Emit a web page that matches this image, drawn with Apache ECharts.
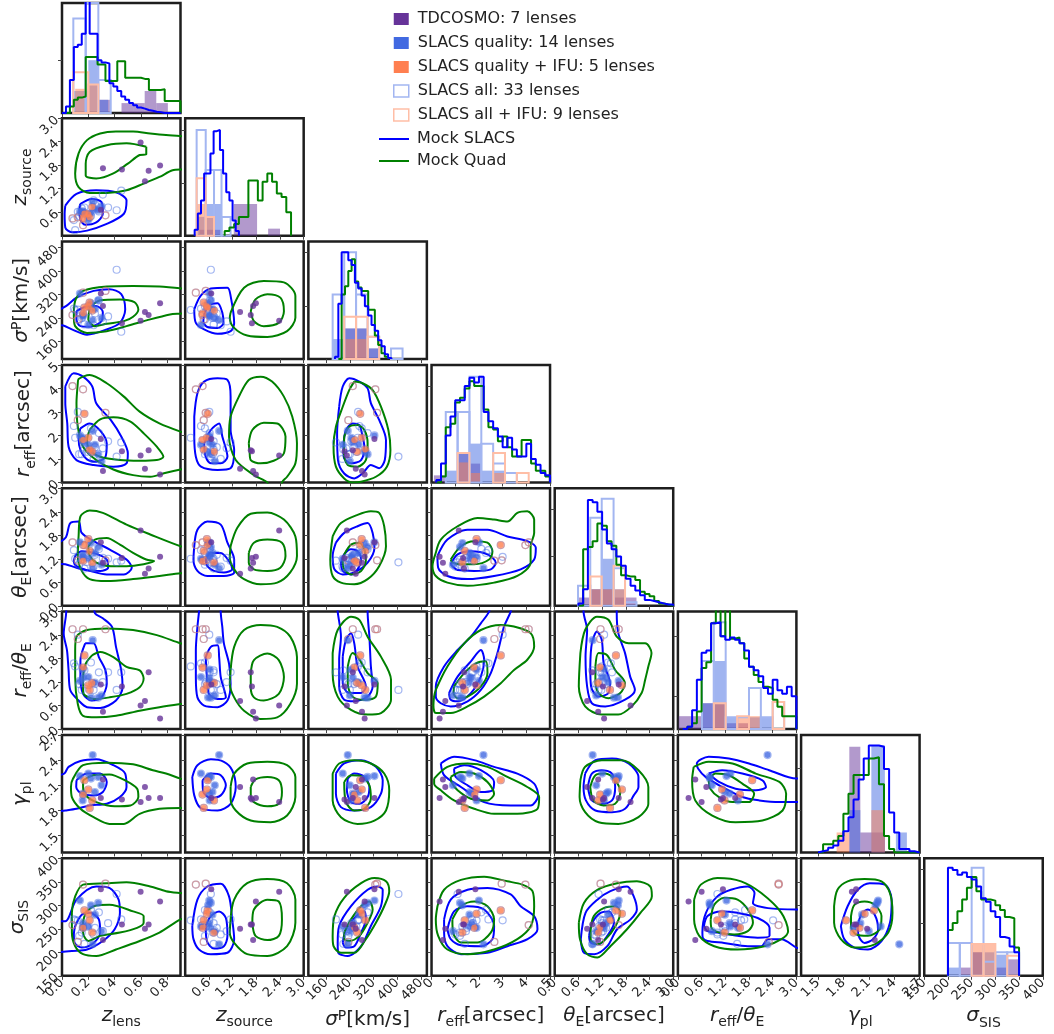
<!DOCTYPE html>
<html>
<head>
<meta charset="utf-8">
<script src="https://cdn.jsdelivr.net/npm/echarts@6/dist/echarts.min.js"></script>
<style>
  html, body { margin: 0; padding: 0; background: #ffffff; }
  #chart { width: 1054px; height: 1034px; }
</style>
</head>
<body>
<div id="chart"></div>
<script>
// ---------------------------------------------------------------------------
// Parameters of the corner plot (order of rows / columns)
// ---------------------------------------------------------------------------
const paramKeys = ['zl', 'zs', 'sp', 're', 'te', 'rt', 'gm', 'ss'];
const axisMin = [0, 0, 100, 0, 0, 0, 1.3, 150];
const axisMax = [0.9, 3, 500, 5, 3, 3, 2.7, 400];
const tickValues = [
  [0, 0.2, 0.4, 0.6, 0.8],
  [0.6, 1.2, 1.8, 2.4, 3.0],
  [160, 240, 320, 400, 480],
  [0, 1, 2, 3, 4, 5],
  [0, 0.6, 1.2, 1.8, 2.4, 3.0],
  [0, 0.6, 1.2, 1.8, 2.4, 3.0],
  [1.5, 1.8, 2.1, 2.4, 2.7],
  [150, 200, 250, 300, 350, 400]
];
const tickDecimals = [1, 1, 0, 0, 1, 1, 1, 0];
const axisTitles = [
  '{i|z}{s|lens}',
  '{i|z}{s|source}',
  '{i|σ}{p|P}{n|[km/s]}',
  '{i|r}{s|eff}{n|[arcsec]}',
  '{i|θ}{s|E}{n|[arcsec]}',
  '{i|r}{s|eff}{n|/}{i|θ}{s|E}',
  '{i|γ}{s|pl}',
  '{i|σ}{s|SIS}'
];

// ---------------------------------------------------------------------------
// Lens samples: TDCOSMO (7)
// ---------------------------------------------------------------------------
const td_zl = [0.63, 0.295, 0.455, 0.745, 0.658, 0.311, 0.597];
const td_zs = [1.39, 0.66, 1.69, 1.79, 1.66, 1.72, 2.38];
const td_sp = [260, 323, 222, 290, 250, 281, 230];
const td_re = [0.58, 1.85, 1.33, 0.34, 1.37, 0.48, 1.15];
const td_te = [0.82, 1.62, 1.22, 1.25, 0.95, 1.10, 1.92];
const td_rt = [0.72, 1.14, 1.09, 0.27, 1.45, 0.44, 0.60];
const td_gm = [2.08, 1.95, 1.93, 1.95, 1.95, 2.17, 1.90];
const td_ss = [250, 334, 259, 308, 259, 226, 329];

// SLACS quality lenses (14); flag marks the 5 with IFU kinematics
const sq_zl = [0.233, 0.20, 0.136, 0.275, 0.25, 0.16, 0.157, 0.22, 0.30, 0.17, 0.16, 0.21, 0.23, 0.20];
const sq_zs = [0.86, 0.40, 0.61, 0.65, 0.69, 0.61, 0.62, 0.58, 0.75, 0.57, 0.44, 0.47, 0.73, 0.55];
const sq_sp = [233, 216, 323, 300, 270, 250, 245, 290, 240, 275, 255, 292, 265, 280];
const sq_re = [2.19, 1.6, 2.0, 1.2, 1.6, 1.7, 1.9, 1.3, 0.9, 2.92, 1.8, 1.4, 1.3, 1.9];
const sq_te = [0.96, 1.2, 1.62, 1.5, 1.35, 1.3, 1.25, 1.6, 1.05, 1.55, 1.15, 1.4, 1.1, 1.7];
const sq_rt = [2.27, 1.33, 1.23, 0.8, 1.19, 1.31, 1.52, 0.81, 0.86, 1.88, 1.57, 1.0, 1.18, 1.12];
const sq_gm = [2.46, 2.24, 2.21, 2.20, 2.02, 2.00, 1.92, 2.18, 2.10, 2.16, 1.99, 1.83, 1.92, 2.05];
const sq_ss = [217, 255, 310, 305, 280, 262, 252, 300, 245, 289, 252, 268, 242, 282];
const sq_ifu = [0, 0, 0, 0, 0, 0, 0, 0, 0, 1, 1, 1, 1, 1];

// Remaining SLACS lenses (19, no power-law slope); flag marks the 4 with IFU
const so_zl = [0.415, 0.45, 0.08, 0.16, 0.33, 0.12, 0.12, 0.10, 0.17, 0.13, 0.25, 0.28, 0.19, 0.24, 0.35, 0.22, 0.15, 0.31, 0.09];
const so_zs = [0.65, 1.15, 0.44, 0.27, 0.52, 0.47, 0.61, 0.14, 0.72, 0.50, 0.80, 0.62, 0.53, 0.90, 0.72, 0.50, 0.70, 1.05, 0.40];
const so_sp = [404, 193, 250, 326, 332, 235, 268, 267, 218, 235, 255, 300, 262, 215, 245, 280, 240, 228, 272];
const so_re = [1.1, 1.7, 4.1, 3.96, 2.96, 2.65, 3.0, 1.9, 1.4, 1.2, 1.5, 2.1, 1.3, 1.0, 1.75, 2.3, 1.2, 1.45, 2.4];
const so_te = [1.11, 1.15, 1.62, 1.55, 1.16, 1.15, 1.25, 1.2, 0.95, 1.05, 1.3, 1.45, 1.12, 1.0, 1.2, 1.35, 1.18, 1.22, 1.42];
const so_rt = [1.0, 1.45, 2.55, 2.55, 2.55, 2.3, 2.41, 1.6, 1.5, 1.15, 1.15, 1.45, 1.2, 1.0, 1.45, 1.7, 1.0, 1.2, 1.68];
const so_gm = [null, null, null, null, null, null, null, null, null, null, null, null, null, null, null, null, null, null, null];
const so_ss = [324, 270, 258, 344, 346, 222, 268, 268, 218, 235, 252, 285, 255, 238, 262, 290, 242, 245, 270];
const so_ifu = [0, 0, 1, 1, 1, 1, 0, 0, 0, 0, 0, 0, 0, 0, 0, 0, 0, 0, 0];

// ---------------------------------------------------------------------------
// Mock populations: 1-D histograms [start, bin width] and bin heights
// ---------------------------------------------------------------------------
const mockBins = {
  zl: [0, 0.03], zs: [0.24, 0.08], sp: [190, 11.2], re: [0.2, 0.2],
  te: [0.6, 0.12], rt: [0.12, 0.12], gm: [1.5, 0.06], ss: [200, 10]
};
const mockQuadBins = {
  zl: [0, 0.03], zs: [1.0, 0.12], sp: [201.2, 11.2], re: [0.2, 0.2],
  te: [0.6, 0.12], rt: [0.12, 0.12], gm: [1.5, 0.06], ss: [200, 10]
};
const mS_zl = [0, 0.06, 0.3, 0.6, 0.62, 0.72, 1.1, 0.72, 0.72, 0.48, 0.46, 0.45, 0.27, 0.24, 0.2, 0.15, 0.12, 0.09, 0.07, 0.05, 0.04, 0.027, 0.02, 0.012, 0.008, 0, 0, 0, 0, 0];
const mQ_zl = [0, 0, 0.06, 0.12, 0.14, 0.15, 0.51, 0.51, 0.51, 0.44, 0.44, 0.29, 0.29, 0.29, 0.47, 0.47, 0.32, 0.32, 0.32, 0.32, 0.31, 0.31, 0.21, 0.21, 0.21, 0.215, 0.11, 0.11, 0.11, 0.11];
const mS_zs = [0.05, 0.19, 0.3, 0.53, 0.53, 0.7, 0.89, 0.9, 0.73, 0.53, 0.37, 0.3, 0.13, 0.04];
const mQ_zs = [0.04, 0.07, 0.1, 0.16, 0.16, 0.47, 0.47, 0.3, 0.46, 0.53, 0.46, 0.36, 0.33, 0.2];
const mS_sp = [0.02, 0.47, 0.91, 0.91, 0.84, 0.8, 0.65, 0.6, 0.54, 0.45, 0.37, 0.29, 0.24, 0.16, 0.11, 0.04, 0.01];
const mQ_sp = [0, 0.55, 0.62, 0.75, 0.85, 0.66, 0.61, 0.58, 0.58, 0.42, 0.42, 0.2, 0.12, 0.05, 0.02];
const mS_re = [0.02, 0.16, 0.4, 0.56, 0.7, 0.7, 0.82, 0.89, 0.85, 0.9, 0.6, 0.52, 0.46, 0.39, 0.3, 0.38, 0.28, 0.22, 0.22, 0.33, 0.2, 0.15, 0.08, 0.06];
const mQ_re = [0, 0.05, 0.47, 0.5, 0.68, 0.72, 0.8, 0.86, 0.82, 0.82, 0.62, 0.47, 0.45, 0.35, 0.39, 0.3, 0.22, 0.22, 0.36, 0.36, 0.16, 0.1, 0.1, 0.05];
const mS_te = [0.02, 0.14, 0.9, 0.88, 0.8, 0.65, 0.53, 0.48, 0.42, 0.34, 0.23, 0.17, 0.13, 0.09, 0.05, 0.04, 0.03, 0.02, 0.01, 0.01];
const mQ_te = [0, 0.48, 0.5, 0.55, 0.7, 0.68, 0.55, 0.51, 0.35, 0.26, 0.25, 0.25, 0.22, 0.12, 0.1, 0.08, 0.04, 0.02, 0.01, 0];
const mS_rt = [0, 0.02, 0.16, 0.42, 0.65, 0.67, 0.9, 0.91, 0.79, 0.76, 0.78, 0.76, 0.73, 0.67, 0.53, 0.5, 0.45, 0.35, 0.3, 0.42, 0.33, 0.3, 0.36, 0.28];
const mQ_rt = [0, 0.02, 0.05, 0.15, 0.52, 0.57, 0.9, 1.05, 0.79, 1.05, 0.77, 0.78, 0.73, 0.6, 0.53, 0.46, 0.4, 0.36, 0.35, 0.25, 0.19, 0.11, 0.11, 0.11];
const mS_gm = [0.01, 0.02, 0.04, 0.06, 0.1, 0.18, 0.3, 0.45, 0.62, 0.8, 0.91, 0.91, 0.9, 0.71, 0.34, 0.17, 0.03, 0.03, 0.01, 0];
const mQ_gm = [0, 0.07, 0.07, 0.1, 0.14, 0.33, 0.5, 0.66, 0.66, 0.66, 0.8, 0.81, 0.58, 0.14, 0.03, 0, 0, 0, 0, 0];
const mS_ss = [0.92, 0.9, 0.86, 0.88, 0.84, 0.82, 0.76, 0.66, 0.63, 0.55, 0.5, 0.33, 0.32, 0.25, 0.2];
const mQ_ss = [0.39, 0.45, 0.55, 0.65, 0.75, 0.84, 0.72, 0.65, 0.65, 0.64, 0.6, 0.56, 0.5, 0.49, 0.24];

// ---------------------------------------------------------------------------
// Lens-sample histograms: triples [low edge, high edge, height]
// ---------------------------------------------------------------------------
const hTD_zl = [0.276, 0.364, 0.12, 0.452, 0.54, 0.09, 0.54, 0.628, 0.09, 0.628, 0.716, 0.2, 0.716, 0.804, 0.09];
const hSQ_zl = [0.086, 0.2, 0.2, 0.2, 0.276, 0.48, 0.276, 0.35, 0.12];
const hSQI_zl = [0.1, 0.2, 0.22, 0.2, 0.276, 0.26];
const hSA_zl = [0.086, 0.18, 0.86, 0.18, 0.276, 1.2, 0.276, 0.37, 0.3];
const hSAI_zl = [0.086, 0.2, 0.37, 0.2, 0.276, 0.26];

const hTD_zs = [0.36, 0.92, 0.05, 1.23, 1.82, 0.27, 2.1, 2.4, 0.06];
const hSQ_zs = [0.29, 0.52, 0.16, 0.52, 0.73, 0.27, 0.73, 0.92, 0.27];
const hSQI_zs = [0.29, 0.52, 0.27, 0.52, 0.73, 0.16];
const hSA_zs = [0.29, 0.52, 0.9, 0.52, 0.73, 0.56, 0.73, 0.92, 0.56, 0.92, 1.15, 0.16];
const hSAI_zs = [0.29, 0.52, 0.49, 0.52, 0.73, 0.16];

const hTD_sp = [221, 261, 0.26, 261, 300, 0.26, 300, 339, 0.09];
const hSQ_sp = [182, 221, 0.17, 221, 261, 0.26, 261, 300, 0.26, 300, 339, 0.09];
const hSQI_sp = [221, 261, 0.17, 261, 300, 0.17];
const hSA_sp = [182, 221, 0.55, 221, 261, 0.91, 261, 300, 0.55, 300, 339, 0.19, 379, 418, 0.09];
const hSAI_sp = [221, 261, 0.36, 261, 300, 0.36, 300, 339, 0.19];

const hTD_re = [0.1, 0.6, 0.06, 1.1, 1.6, 0.25, 1.6, 2.1, 0.16];
const hSQ_re = [0.6, 1.1, 0.1, 1.1, 1.6, 0.25, 1.6, 2.1, 0.33, 2.1, 2.6, 0.1, 2.6, 3.1, 0.1];
const hSQI_re = [1.1, 1.6, 0.17, 1.6, 2.1, 0.08, 2.6, 3.1, 0.08];
const hSA_re = [0.6, 1.1, 0.6, 1.1, 1.6, 0.6, 1.6, 2.1, 0.9, 2.1, 2.6, 0.33, 2.6, 3.1, 0.16, 3.1, 3.6, 0.08];
const hSAI_re = [1.1, 1.6, 0.25, 2.6, 3.1, 0.25, 3.6, 4.1, 0.08];

const hTD_te = [0.59, 0.9, 0.07, 0.9, 1.19, 0.14, 1.19, 1.49, 0.14, 1.49, 1.78, 0.07, 1.78, 2.07, 0.07];
const hSQ_te = [0.9, 1.19, 0.14, 1.19, 1.49, 0.4, 1.49, 1.78, 0.14];
const hSQI_te = [0.9, 1.19, 0.14, 1.19, 1.49, 0.14, 1.49, 1.78, 0.14];
const hSA_te = [0.59, 0.9, 0.17, 0.9, 1.19, 0.75, 1.19, 1.49, 0.91, 1.49, 1.78, 0.32, 1.78, 2.07, 0.03];
const hSAI_te = [0.9, 1.19, 0.25, 1.49, 1.78, 0.34];

const hTD_rt = [0.02, 0.61, 0.11, 0.61, 1.21, 0.22, 1.21, 1.8, 0.05];
const hSQ_rt = [0.61, 0.91, 0.22, 0.91, 1.21, 0.58, 1.21, 1.5, 0.1, 1.8, 2.1, 0.1, 2.1, 2.4, 0.1];
const hSQI_rt = [0.91, 1.21, 0.22, 1.5, 1.8, 0.11, 1.8, 2.1, 0.11];
const hSA_rt = [0.61, 0.91, 0.58, 0.91, 1.21, 0.91, 1.21, 1.5, 0.1, 1.5, 1.8, 0.1, 1.8, 2.1, 0.35, 2.1, 2.4, 0.1, 2.4, 2.69, 0.23];
const hSAI_rt = [0.91, 1.21, 0.22, 1.5, 1.8, 0.11, 2.4, 2.69, 0.23];

const hTD_gm = [1.87, 2.0, 0.9, 2.0, 2.13, 0.17, 2.13, 2.29, 0.17];
const hSQ_gm = [1.87, 2.0, 0.36, 2.13, 2.29, 0.91, 2.42, 2.55, 0.17];
const hSQI_gm = [1.72, 1.87, 0.17, 2.13, 2.29, 0.36];
const hSA_gm = [];
const hSAI_gm = [];

const hTD_ss = [225, 250, 0.07, 250, 275, 0.2, 300, 325, 0.07, 325, 350, 0.14];
const hSQ_ss = [200, 225, 0.07, 250, 275, 0.2, 275, 300, 0.2, 300, 325, 0.18];
const hSQI_ss = [250, 275, 0.27, 275, 300, 0.27];
const hSA_ss = [200, 225, 0.28, 225, 250, 0.28, 250, 275, 0.92, 275, 300, 0.12, 300, 325, 0.2, 325, 350, 0.2];
const hSAI_ss = [250, 275, 0.27, 275, 300, 0.27, 325, 350, 0.17];

// Left-side density ticks of the diagonal panels
const diagTicks = [[0.48], [0.45, 0.9], [0.45, 0.91], [0.42, 0.82], [0.42, 0.82], [0.28, 0.79], [0.36, 0.72], [0.45, 0.91]];

// ---------------------------------------------------------------------------
// Mock contours per panel (x-param_y-param): [SLACS outer, SLACS inner,
// Quad outer, Quad inner], each a flat list of x, y pairs
// ---------------------------------------------------------------------------
const zl_zs = [
  [0.025, 0.77, 0.11, 1.07, 0.26, 1.16, 0.41, 1.11, 0.49, 0.9, 0.47, 0.56, 0.34, 0.3, 0.19, 0.13, 0.075, 0.09, 0.025, 0.21, 0.02, 0.56],
  [0.138, 0.81, 0.226, 0.94, 0.30, 0.86, 0.31, 0.56, 0.26, 0.34, 0.176, 0.28, 0.138, 0.43, 0.133, 0.64],
  [0.95, 2.53, 0.79, 2.57, 0.67, 2.61, 0.54, 2.66, 0.41, 2.66, 0.29, 2.61, 0.19, 2.44, 0.126, 2.1, 0.10, 1.59, 0.126, 1.24, 0.21, 1.09, 0.34, 1.09, 0.49, 1.16, 0.62, 1.33, 0.74, 1.5, 0.84, 1.67, 0.95, 1.72],
  [0.64, 2.27, 0.49, 2.36, 0.34, 2.31, 0.21, 2.14, 0.18, 1.84, 0.18, 1.54, 0.26, 1.46, 0.39, 1.59, 0.5, 1.84, 0.59, 2.06, 0.64, 2.08]
];
const zl_sp = [
  [-0.03, 266, 0.03, 280, 0.11, 309, 0.24, 332, 0.36, 338, 0.45, 321, 0.48, 269, 0.44, 223, 0.34, 201, 0.19, 183, 0.075, 201, 0.01, 214, -0.03, 216],
  [0.11, 263, 0.18, 278, 0.26, 281, 0.31, 260, 0.30, 229, 0.21, 210, 0.14, 212, 0.11, 235],
  [0.95, 338, 0.74, 347, 0.54, 349, 0.34, 347, 0.16, 332, 0.10, 298, 0.09, 246, 0.10, 212, 0.19, 189, 0.34, 195, 0.49, 212, 0.67, 235, 0.82, 252, 0.95, 262],
  [0.21, 275, 0.29, 300, 0.44, 303, 0.55, 294, 0.58, 269, 0.54, 244, 0.47, 229, 0.34, 220, 0.25, 212, 0.2, 235]
];
const zl_re = [
  [0.025, 4.08, 0.088, 4.65, 0.16, 4.5, 0.23, 4.08, 0.26, 3.37, 0.37, 2.66, 0.45, 1.95, 0.5, 1.24, 0.49, 0.81, 0.39, 0.67, 0.24, 0.74, 0.11, 0.95, 0.05, 1.52, 0.04, 2.51, 0.025, 3.37],
  [0.14, 2.3, 0.21, 2.51, 0.29, 2.2, 0.34, 1.66, 0.33, 1.09, 0.26, 0.88, 0.19, 0.98, 0.14, 1.38, 0.126, 1.88],
  [0.95, 2.1, 0.9, 2.16, 0.74, 2.51, 0.59, 3.01, 0.47, 3.65, 0.34, 4.22, 0.21, 4.57, 0.126, 4.4, 0.12, 4.22, 0.11, 3.37, 0.12, 2.37, 0.16, 1.52, 0.26, 0.95, 0.39, 0.55, 0.54, 0.31, 0.67, 0.24, 0.79, 0.41, 0.9, 0.55, 0.95, 0.6],
  [0.21, 2.23, 0.29, 2.68, 0.39, 2.77, 0.52, 2.59, 0.62, 2.09, 0.72, 1.52, 0.77, 1.09, 0.72, 0.95, 0.59, 0.92, 0.44, 0.95, 0.29, 1.09, 0.21, 1.38, 0.19, 1.8]
];
const zl_te = [
  [-0.03, 1.6, 0.03, 1.75, 0.063, 2.11, 0.126, 2.15, 0.15, 1.86, 0.24, 1.65, 0.36, 1.44, 0.49, 1.18, 0.53, 0.97, 0.47, 0.8, 0.34, 0.8, 0.21, 0.89, 0.11, 0.97, 0.025, 1.06, -0.03, 1.08],
  [0.1, 1.27, 0.15, 1.39, 0.24, 1.35, 0.34, 1.18, 0.35, 0.97, 0.29, 0.89, 0.19, 0.91, 0.11, 1.01, 0.09, 1.14],
  [0.95, 1.5, 0.9, 1.52, 0.67, 1.82, 0.49, 2.07, 0.31, 2.37, 0.21, 2.43, 0.14, 2.28, 0.126, 1.77, 0.12, 1.27, 0.15, 0.89, 0.21, 0.68, 0.34, 0.63, 0.54, 0.68, 0.74, 0.76, 0.9, 0.83, 0.95, 0.84],
  [0.2, 1.52, 0.25, 1.69, 0.34, 1.73, 0.44, 1.56, 0.54, 1.35, 0.64, 1.18, 0.7, 1.14, 0.62, 1.06, 0.49, 1.01, 0.37, 1.01, 0.26, 1.1, 0.21, 1.28]
];
const zl_rt = [
  [0.035, 3.2, 0.03, 2.9, 0.013, 2.44, 0.038, 2.01, 0.05, 1.5, 0.063, 0.99, 0.126, 0.73, 0.19, 0.56, 0.29, 0.54, 0.41, 0.73, 0.46, 1.07, 0.45, 1.5, 0.41, 2.1, 0.38, 2.61, 0.31, 2.83, 0.25, 2.96, 0.24, 3.2],
  [0.176, 2.19, 0.24, 2.19, 0.28, 1.84, 0.33, 1.5, 0.34, 1.16, 0.3, 0.81, 0.226, 0.73, 0.16, 0.9, 0.14, 1.33, 0.14, 1.76],
  [0.95, 2.15, 0.9, 2.19, 0.72, 2.4, 0.54, 2.53, 0.34, 2.57, 0.19, 2.53, 0.11, 2.36, 0.1, 2.01, 0.1, 1.33, 0.12, 0.64, 0.16, 0.34, 0.26, 0.3, 0.41, 0.34, 0.59, 0.47, 0.74, 0.56, 0.9, 0.64, 0.95, 0.66],
  [0.23, 1.89, 0.29, 1.97, 0.39, 1.84, 0.49, 1.59, 0.59, 1.5, 0.62, 1.29, 0.59, 1.07, 0.49, 0.9, 0.36, 0.81, 0.24, 0.77, 0.16, 0.94, 0.16, 1.33, 0.18, 1.67]
];
const zl_gm = [
  [-0.03, 2.22, 0.018, 2.24, 0.05, 2.32, 0.14, 2.39, 0.26, 2.41, 0.39, 2.34, 0.48, 2.24, 0.49, 2.08, 0.44, 1.96, 0.34, 1.88, 0.21, 1.86, 0.11, 1.82, 0.025, 1.8, -0.03, 1.79],
  [0.11, 2.16, 0.19, 2.24, 0.29, 2.24, 0.34, 2.14, 0.31, 2.02, 0.24, 1.98, 0.15, 2.0, 0.108, 2.08],
  [0.95, 2.16, 0.9, 2.18, 0.79, 2.24, 0.69, 2.28, 0.54, 2.35, 0.34, 2.37, 0.16, 2.34, 0.084, 2.18, 0.068, 2.08, 0.075, 1.96, 0.14, 1.82, 0.24, 1.72, 0.36, 1.64, 0.47, 1.64, 0.59, 1.76, 0.74, 1.82, 0.9, 1.83, 0.95, 1.83],
  [0.16, 2.16, 0.24, 2.22, 0.36, 2.23, 0.49, 2.15, 0.57, 2.06, 0.58, 1.96, 0.52, 1.86, 0.4, 1.85, 0.26, 1.9, 0.18, 1.98, 0.16, 2.08]
];
const zl_ss = [
  [-0.03, 266, 0.025, 266, 0.11, 312, 0.26, 340, 0.36, 337, 0.43, 312, 0.44, 284, 0.4, 249, 0.31, 224, 0.19, 206, 0.075, 203, -0.03, 200],
  [0.1, 256, 0.15, 280, 0.21, 284, 0.28, 270, 0.29, 242, 0.24, 220, 0.15, 210, 0.096, 220, 0.09, 238],
  [0.95, 325, 0.9, 326, 0.79, 330, 0.67, 340, 0.49, 349, 0.34, 347, 0.16, 344, 0.1, 319, 0.075, 284, 0.075, 242, 0.1, 213, 0.16, 196, 0.26, 192, 0.41, 206, 0.59, 224, 0.74, 242, 0.9, 270, 0.95, 272],
  [0.18, 284, 0.24, 298, 0.36, 301, 0.54, 287, 0.62, 277, 0.62, 263, 0.57, 252, 0.44, 242, 0.29, 235, 0.2, 224, 0.16, 242, 0.16, 263]
];
const zs_sp = [
  [0.23, 269, 0.39, 315, 0.65, 340, 1.07, 343, 1.15, 315, 1.24, 223, 1.15, 195, 0.82, 186, 0.48, 201, 0.27, 223],
  [0.48, 252, 0.6, 283, 0.82, 290, 0.94, 258, 0.97, 223, 0.82, 206, 0.56, 209, 0.46, 229],
  [1.15, 258, 1.49, 343, 1.99, 366, 2.5, 361, 2.79, 315, 2.79, 241, 2.58, 195, 2.08, 175, 1.57, 180, 1.24, 206, 1.13, 241],
  [1.66, 263, 1.78, 303, 2.08, 321, 2.41, 309, 2.5, 263, 2.37, 223, 1.99, 212, 1.74, 229]
];
const zs_re = [
  [0.23, 2.8, 0.31, 3.79, 0.48, 4.29, 0.82, 4.43, 1.07, 4.36, 1.15, 3.65, 1.15, 2.23, 1.24, 1.38, 1.15, 0.6, 0.82, 0.53, 0.4, 0.67, 0.27, 1.09, 0.23, 1.95],
  [0.48, 1.66, 0.65, 2.23, 0.86, 2.51, 0.94, 1.95, 1.07, 1.09, 0.9, 0.81, 0.65, 0.81, 0.52, 1.09],
  [2.1, -0.2, 2.08, 0.0, 1.74, 0.31, 1.28, 0.95, 1.11, 1.95, 1.15, 2.8, 1.36, 3.65, 1.61, 4.36, 1.91, 4.5, 2.2, 4.29, 2.5, 3.65, 2.71, 2.8, 2.83, 1.66, 2.79, 0.81, 2.58, 0.24, 2.45, 0.0, 2.44, -0.2],
  [1.61, 1.66, 1.7, 2.23, 1.99, 2.54, 2.33, 2.51, 2.54, 1.95, 2.5, 1.24, 2.24, 0.92, 1.91, 0.81, 1.66, 0.95, 1.63, 1.31]
];
const zs_te = [
  [0.23, 1.52, 0.31, 1.94, 0.56, 2.15, 0.9, 2.07, 1.07, 1.61, 1.24, 1.18, 1.24, 0.85, 0.98, 0.76, 0.56, 0.76, 0.31, 0.89, 0.21, 1.18],
  [0.52, 1.18, 0.65, 1.35, 0.9, 1.35, 1.11, 1.14, 1.19, 0.93, 0.98, 0.85, 0.73, 0.89, 0.56, 1.01],
  [1.15, 1.52, 1.32, 1.99, 1.66, 2.35, 2.08, 2.38, 2.5, 2.2, 2.79, 1.77, 2.83, 1.27, 2.66, 0.85, 2.33, 0.59, 1.91, 0.55, 1.49, 0.68, 1.24, 0.93, 1.13, 1.23],
  [1.61, 1.35, 1.74, 1.61, 2.08, 1.69, 2.45, 1.61, 2.54, 1.27, 2.41, 0.97, 2.08, 0.89, 1.74, 0.93, 1.61, 1.1]
];
const zs_rt = [
  [0.36, 3.2, 0.35, 3.0, 0.31, 2.61, 0.27, 2.01, 0.27, 1.33, 0.31, 0.81, 0.48, 0.6, 0.82, 0.56, 1.07, 0.73, 1.15, 1.16, 1.11, 1.67, 0.98, 2.19, 0.94, 2.61, 0.9, 3.0, 0.9, 3.2],
  [0.52, 1.84, 0.65, 2.1, 0.82, 2.14, 0.86, 1.84, 0.9, 1.33, 1.03, 0.81, 0.82, 0.77, 0.6, 0.9, 0.55, 1.33],
  [1.15, 1.5, 1.24, 2.1, 1.49, 2.53, 1.91, 2.66, 2.33, 2.61, 2.66, 2.36, 2.83, 1.84, 2.83, 1.16, 2.66, 0.64, 2.33, 0.3, 1.91, 0.26, 1.49, 0.47, 1.24, 0.81, 1.13, 1.16],
  [1.66, 1.41, 1.74, 1.76, 2.08, 1.93, 2.37, 1.76, 2.5, 1.33, 2.37, 0.9, 1.99, 0.73, 1.74, 0.81, 1.66, 1.07]
];
const zs_gm = [
  [0.18, 2.2, 0.31, 2.34, 0.65, 2.41, 0.98, 2.38, 1.19, 2.28, 1.28, 2.08, 1.15, 1.88, 0.82, 1.8, 0.39, 1.83, 0.23, 1.98],
  [0.44, 2.16, 0.65, 2.24, 0.9, 2.22, 1.03, 2.1, 0.9, 1.98, 0.65, 1.95, 0.46, 2.02],
  [1.15, 2.08, 1.24, 2.24, 1.57, 2.36, 2.08, 2.38, 2.58, 2.34, 2.79, 2.2, 2.79, 1.96, 2.58, 1.74, 2.16, 1.66, 1.66, 1.68, 1.28, 1.8, 1.15, 1.94],
  [1.66, 2.08, 1.78, 2.17, 2.08, 2.2, 2.37, 2.16, 2.45, 2.02, 2.37, 1.88, 2.08, 1.85, 1.74, 1.9, 1.66, 1.98]
];
const zs_ss = [
  [0.18, 256, 0.31, 312, 0.56, 340, 0.9, 346, 1.11, 319, 1.19, 270, 1.24, 228, 1.07, 199, 0.65, 196, 0.35, 206, 0.21, 228],
  [0.52, 256, 0.65, 277, 0.86, 287, 1.03, 273, 1.07, 235, 0.98, 213, 0.73, 208, 0.55, 224],
  [1.15, 270, 1.24, 312, 1.57, 347, 2.08, 356, 2.58, 347, 2.79, 312, 2.79, 263, 2.58, 213, 2.08, 192, 1.57, 196, 1.24, 220, 1.13, 242],
  [1.7, 263, 1.74, 291, 2.08, 312, 2.37, 308, 2.45, 270, 2.37, 235, 2.08, 226, 1.78, 235]
];
const sp_re = [
  [204, 3.22, 216, 4.08, 238, 4.43, 272, 4.29, 300, 4.0, 311, 3.37, 339, 2.66, 362, 1.8, 358, 0.95, 339, 0.6, 311, 0.74, 283, 0.38, 255, 0.17, 221, 0.38, 200, 0.95, 197, 2.09],
  [219, 1.66, 227, 2.23, 249, 2.51, 272, 2.44, 283, 1.95, 289, 1.52, 278, 0.95, 244, 0.81, 219, 1.09],
  [255, 4.29, 283, 4.22, 317, 3.93, 345, 3.22, 370, 2.23, 377, 1.38, 365, 0.67, 328, 0.24, 278, 0.03, 249, 0.0, 221, 0.17, 193, 0.67, 185, 1.52, 193, 2.37, 216, 3.22, 238, 3.93],
  [221, 1.95, 238, 2.37, 266, 2.44, 289, 2.23, 300, 1.66, 294, 0.95, 266, 0.67, 233, 0.74, 220, 1.24]
];
const sp_te = [
  [193, 1.61, 221, 1.86, 266, 2.03, 300, 2.11, 317, 1.86, 323, 1.48, 300, 1.1, 255, 0.85, 216, 0.8, 188, 0.93, 182, 1.27],
  [210, 1.1, 221, 1.31, 244, 1.44, 266, 1.39, 278, 1.18, 266, 0.93, 244, 0.8, 216, 0.89],
  [182, 1.77, 210, 2.11, 266, 2.32, 311, 2.41, 339, 2.37, 356, 2.03, 362, 1.52, 339, 1.01, 300, 0.68, 255, 0.55, 210, 0.59, 182, 0.76, 174, 1.18],
  [221, 1.31, 244, 1.56, 272, 1.61, 289, 1.44, 294, 1.14, 278, 0.89, 244, 0.8, 221, 0.93, 216, 1.14]
];
const sp_rt = [
  [198, 3.2, 199, 3.0, 210, 2.36, 204, 1.77, 204, 1.09, 221, 0.75, 255, 0.71, 300, 0.83, 317, 1.09, 311, 1.6, 306, 2.36, 300, 3.0, 300, 3.2],
  [216, 1.85, 227, 2.28, 244, 2.45, 255, 2.19, 266, 1.6, 294, 1.09, 278, 0.92, 238, 0.92, 216, 1.17],
  [182, 1.94, 199, 2.53, 244, 2.87, 272, 2.79, 300, 2.36, 345, 1.85, 379, 1.26, 379, 0.75, 345, 0.41, 300, 0.37, 244, 0.49, 199, 0.83, 182, 1.43],
  [233, 1.6, 249, 1.94, 266, 1.85, 300, 1.43, 334, 1.17, 328, 0.83, 289, 0.75, 249, 0.83, 233, 1.17]
];
const sp_gm = [
  [193, 2.24, 221, 2.36, 278, 2.4, 328, 2.32, 351, 2.16, 345, 2.0, 311, 1.84, 255, 1.8, 210, 1.84, 193, 2.0],
  [233, 2.18, 255, 2.24, 289, 2.2, 306, 2.08, 300, 1.96, 272, 1.88, 244, 1.9, 230, 2.04],
  [182, 2.24, 204, 2.36, 255, 2.4, 311, 2.36, 356, 2.24, 373, 2.04, 362, 1.8, 323, 1.68, 266, 1.64, 210, 1.72, 182, 1.92],
  [221, 2.14, 244, 2.22, 278, 2.21, 306, 2.1, 311, 1.94, 289, 1.82, 255, 1.8, 227, 1.9]
];
const sp_ss = [
  [199, 220, 204, 256, 244, 298, 300, 333, 334, 340, 351, 333, 345, 298, 311, 256, 278, 213, 233, 192, 201, 199],
  [216, 220, 227, 249, 261, 277, 289, 287, 294, 270, 278, 242, 255, 213, 227, 210],
  [182, 234, 188, 277, 221, 316, 278, 347, 323, 358, 362, 351, 373, 330, 356, 298, 328, 263, 294, 228, 255, 199, 210, 199, 185, 213],
  [221, 242, 244, 270, 278, 298, 306, 308, 317, 291, 300, 263, 272, 235, 238, 224, 221, 228]
];
const re_te = [
  [0.25, 1.27, 0.67, 1.69, 1.52, 1.94, 2.36, 1.94, 3.2, 1.77, 4.04, 1.65, 4.4, 1.48, 4.33, 1.18, 3.76, 0.93, 2.64, 0.76, 1.52, 0.68, 0.67, 0.76, 0.28, 0.97],
  [0.81, 1.06, 1.1, 1.31, 1.66, 1.39, 2.36, 1.31, 2.71, 1.1, 2.5, 0.93, 1.8, 0.89, 1.1, 0.91],
  [0.18, 1.35, 0.39, 1.69, 1.1, 2.03, 1.94, 2.24, 2.64, 2.2, 3.2, 2.15, 3.62, 2.37, 4.04, 2.41, 4.33, 2.2, 4.33, 1.86, 4.18, 1.52, 4.18, 1.1, 3.62, 0.76, 2.64, 0.59, 1.52, 0.51, 0.67, 0.59, 0.18, 0.76, 0.04, 1.01],
  [0.81, 1.18, 1.24, 1.52, 1.8, 1.65, 2.36, 1.61, 2.57, 1.39, 2.43, 1.18, 1.8, 1.06, 1.24, 1.06, 0.88, 1.1]
];
const re_rt = [
  [3.4, 3.2, 3.34, 3.0, 3.06, 2.62, 2.92, 2.28, 2.78, 1.94, 2.5, 1.43, 2.08, 1.0, 1.52, 0.71, 0.81, 0.58, 0.39, 0.66, 0.18, 0.83, 0.18, 1.09, 0.53, 1.6, 1.1, 2.02, 1.66, 2.36, 2.08, 2.7, 2.43, 3.0, 2.5, 3.2],
  [0.74, 0.92, 1.1, 1.34, 1.66, 1.73, 2.08, 2.02, 2.22, 1.77, 2.08, 1.34, 1.66, 0.92, 1.1, 0.71, 0.81, 0.75],
  [0.1, 0.8, 0.18, 1.0, 0.67, 1.6, 1.38, 2.19, 2.08, 2.53, 2.92, 2.66, 3.48, 2.62, 4.18, 2.45, 4.33, 2.11, 4.04, 1.77, 3.48, 1.51, 2.92, 1.17, 2.22, 0.83, 1.52, 0.58, 0.81, 0.41, 0.18, 0.41, 0.08, 0.6],
  [0.95, 1.09, 1.38, 1.43, 1.87, 1.68, 2.29, 1.73, 2.36, 1.43, 2.08, 1.09, 1.52, 0.83, 1.1, 0.79, 0.93, 0.92]
];
const re_gm = [
  [0.39, 2.36, 0.95, 2.44, 1.8, 2.4, 2.64, 2.32, 3.62, 2.24, 4.33, 2.12, 4.5, 1.98, 4.18, 1.86, 3.34, 1.86, 2.22, 1.9, 1.24, 2.08, 0.53, 2.22],
  [0.95, 2.3, 1.38, 2.34, 2.08, 2.28, 2.64, 2.14, 2.57, 2.04, 2.08, 2.02, 1.52, 2.1, 1.02, 2.2],
  [0.11, 2.18, 0.67, 2.32, 1.52, 2.36, 2.36, 2.32, 3.2, 2.2, 4.04, 2.08, 4.54, 1.96, 4.47, 1.82, 3.62, 1.76, 2.64, 1.76, 1.8, 1.82, 0.95, 1.92, 0.39, 2.04, 0.11, 2.12],
  [0.81, 2.2, 1.24, 2.26, 1.8, 2.24, 2.36, 2.14, 2.64, 2.0, 2.36, 1.92, 1.66, 1.94, 1.1, 2.04, 0.84, 2.14]
];
const re_ss = [
  [0.53, 270, 0.81, 312, 1.52, 333, 2.36, 337, 3.34, 323, 3.76, 298, 4.33, 277, 4.47, 249, 4.05, 228, 3.2, 213, 2.36, 199, 1.24, 196, 0.67, 213, 0.53, 242],
  [0.67, 249, 0.95, 287, 1.52, 298, 2.22, 291, 2.64, 256, 2.57, 228, 2.08, 213, 1.24, 215, 0.81, 228],
  [0.25, 298, 0.53, 333, 1.24, 354, 2.22, 361, 3.2, 351, 3.83, 344, 4.26, 330, 4.33, 298, 4.19, 256, 3.62, 228, 2.64, 206, 1.52, 196, 0.67, 206, 0.28, 235, 0.18, 270],
  [0.88, 270, 1.24, 298, 1.8, 308, 2.36, 298, 2.64, 270, 2.5, 242, 1.94, 221, 1.24, 221, 0.91, 242]
];
const te_rt = [
  [0.73, 3.2, 0.73, 3.0, 0.82, 2.53, 0.78, 1.85, 0.82, 1.09, 0.94, 0.66, 1.28, 0.58, 1.78, 0.75, 2.03, 1.0, 1.91, 1.34, 1.78, 1.94, 1.61, 2.45, 1.57, 2.96, 1.57, 3.2],
  [0.9, 1.6, 0.94, 2.19, 1.07, 2.49, 1.19, 2.28, 1.24, 1.68, 1.4, 1.17, 1.36, 0.92, 1.11, 0.83, 0.92, 1.09],
  [0.65, 1.94, 0.77, 2.53, 1.07, 2.87, 1.36, 2.79, 1.57, 2.36, 1.87, 2.19, 2.29, 2.19, 2.45, 1.94, 2.37, 1.6, 2.29, 1.26, 2.2, 0.92, 1.95, 0.58, 1.61, 0.37, 1.19, 0.37, 0.77, 0.58, 0.61, 1.09],
  [1.03, 1.6, 1.11, 1.94, 1.32, 1.89, 1.53, 1.51, 1.78, 1.17, 1.66, 0.92, 1.36, 0.79, 1.11, 0.92, 1.03, 1.26]
];
const te_gm = [
  [0.77, 2.24, 1.03, 2.4, 1.45, 2.42, 1.87, 2.36, 2.12, 2.2, 2.12, 2.08, 2.0, 1.98, 1.78, 1.82, 1.45, 1.78, 1.03, 1.8, 0.79, 1.92, 0.73, 2.08],
  [0.84, 2.08, 0.94, 2.24, 1.19, 2.28, 1.45, 2.24, 1.53, 2.08, 1.45, 1.92, 1.19, 1.88, 0.94, 1.92],
  [0.65, 2.16, 0.77, 2.32, 1.19, 2.4, 1.7, 2.4, 2.12, 2.28, 2.37, 2.08, 2.37, 1.88, 2.12, 1.72, 1.61, 1.64, 1.11, 1.66, 0.77, 1.78, 0.63, 1.96],
  [0.9, 2.08, 1.03, 2.22, 1.28, 2.24, 1.53, 2.16, 1.66, 2.02, 1.53, 1.88, 1.24, 1.86, 0.98, 1.92]
];
const te_ss = [
  [0.66, 228, 0.78, 284, 1.08, 312, 1.41, 330, 1.83, 340, 2.0, 319, 2.08, 291, 1.92, 270, 1.58, 249, 1.33, 213, 1.0, 196, 0.74, 199],
  [0.87, 235, 0.95, 263, 1.16, 284, 1.37, 287, 1.5, 263, 1.33, 235, 1.12, 217, 0.91, 221],
  [0.61, 263, 0.74, 305, 1.08, 333, 1.58, 347, 2.08, 351, 2.42, 340, 2.46, 319, 2.17, 284, 1.83, 249, 1.41, 213, 1.08, 189, 0.82, 196, 0.64, 228],
  [0.91, 249, 0.99, 277, 1.24, 294, 1.54, 298, 1.66, 284, 1.54, 256, 1.29, 228, 1.08, 217, 0.91, 228]
];
const rt_gm = [
  [3.2, 2.2, 3.0, 2.18, 2.31, 2.28, 1.8, 2.36, 1.29, 2.42, 0.78, 2.44, 0.48, 2.36, 0.51, 2.3, 0.7, 2.2, 1.12, 2.08, 1.63, 1.96, 2.06, 1.92, 2.57, 1.9, 3.0, 1.9, 3.2, 1.9],
  [0.78, 2.24, 1.12, 2.28, 1.63, 2.24, 2.14, 2.16, 2.23, 2.08, 1.97, 2.04, 1.46, 2.06, 1.04, 2.14],
  [0.4, 2.32, 0.78, 2.38, 1.38, 2.36, 1.97, 2.24, 2.57, 2.14, 2.74, 2.0, 2.65, 1.8, 2.14, 1.68, 1.46, 1.66, 0.87, 1.74, 0.44, 1.92, 0.36, 2.16],
  [0.78, 2.16, 0.95, 2.24, 1.29, 2.22, 1.63, 2.12, 1.93, 2.0, 1.8, 1.9, 1.38, 1.9, 1.04, 1.96, 0.82, 2.06]
];
const rt_ss = [
  [3.2, 291, 3.0, 291, 2.28, 294, 1.9, 305, 1.94, 326, 1.77, 340, 1.34, 333, 1.0, 319, 0.71, 284, 0.62, 242, 0.63, 231, 0.75, 224, 1.17, 220, 1.77, 213, 2.11, 213, 2.28, 228, 2.62, 228, 3.0, 210, 3.2, 205],
  [0.66, 256, 0.75, 277, 1.09, 287, 1.51, 284, 2.02, 273, 2.32, 252, 2.32, 235, 2.02, 231, 1.51, 235, 1.0, 242, 0.75, 245],
  [0.41, 312, 0.58, 344, 1.0, 358, 1.6, 351, 2.11, 326, 2.62, 284, 2.79, 245, 2.62, 228, 2.19, 213, 1.51, 206, 0.92, 213, 0.54, 235, 0.41, 270],
  [0.83, 270, 0.92, 301, 1.17, 316, 1.51, 312, 1.77, 291, 1.9, 263, 1.77, 245, 1.43, 238, 1.05, 242, 0.85, 252]
];
const gm_ss = [
  [1.77, 256, 1.85, 298, 1.97, 333, 2.11, 347, 2.29, 344, 2.37, 312, 2.35, 263, 2.25, 224, 2.09, 206, 1.93, 210, 1.81, 228],
  [1.97, 256, 2.01, 280, 2.09, 291, 2.17, 280, 2.21, 249, 2.15, 228, 2.05, 220, 1.98, 235],
  [1.69, 298, 1.73, 333, 1.85, 351, 2.05, 356, 2.25, 351, 2.35, 326, 2.38, 284, 2.33, 242, 2.17, 217, 1.93, 210, 1.77, 228, 1.69, 263],
  [1.89, 277, 1.93, 301, 2.05, 308, 2.17, 301, 2.25, 277, 2.23, 249, 2.09, 235, 1.95, 238, 1.89, 256]
];

// ---------------------------------------------------------------------------
// Lookup tables built from the arrays above
// ---------------------------------------------------------------------------
const lensTD = { zl: td_zl, zs: td_zs, sp: td_sp, re: td_re, te: td_te, rt: td_rt, gm: td_gm, ss: td_ss };
const lensSQ = { zl: sq_zl, zs: sq_zs, sp: sq_sp, re: sq_re, te: sq_te, rt: sq_rt, gm: sq_gm, ss: sq_ss };
const lensSO = { zl: so_zl, zs: so_zs, sp: so_sp, re: so_re, te: so_te, rt: so_rt, gm: so_gm, ss: so_ss };
const mockS = { zl: mS_zl, zs: mS_zs, sp: mS_sp, re: mS_re, te: mS_te, rt: mS_rt, gm: mS_gm, ss: mS_ss };
const mockQ = { zl: mQ_zl, zs: mQ_zs, sp: mQ_sp, re: mQ_re, te: mQ_te, rt: mQ_rt, gm: mQ_gm, ss: mQ_ss };
const histTD = { zl: hTD_zl, zs: hTD_zs, sp: hTD_sp, re: hTD_re, te: hTD_te, rt: hTD_rt, gm: hTD_gm, ss: hTD_ss };
const histSQ = { zl: hSQ_zl, zs: hSQ_zs, sp: hSQ_sp, re: hSQ_re, te: hSQ_te, rt: hSQ_rt, gm: hSQ_gm, ss: hSQ_ss };
const histSQI = { zl: hSQI_zl, zs: hSQI_zs, sp: hSQI_sp, re: hSQI_re, te: hSQI_te, rt: hSQI_rt, gm: hSQI_gm, ss: hSQI_ss };
const histSA = { zl: hSA_zl, zs: hSA_zs, sp: hSA_sp, re: hSA_re, te: hSA_te, rt: hSA_rt, gm: hSA_gm, ss: hSA_ss };
const histSAI = { zl: hSAI_zl, zs: hSAI_zs, sp: hSAI_sp, re: hSAI_re, te: hSAI_te, rt: hSAI_rt, gm: hSAI_gm, ss: hSAI_ss };
const contourSets = {
  zl_zs, zl_sp, zl_re, zl_te, zl_rt, zl_gm, zl_ss,
  zs_sp, zs_re, zs_te, zs_rt, zs_gm, zs_ss,
  sp_re, sp_te, sp_rt, sp_gm, sp_ss,
  re_te, re_rt, re_gm, re_ss,
  te_rt, te_gm, te_ss,
  rt_gm, rt_ss,
  gm_ss
};

// ---------------------------------------------------------------------------
// Styling
// ---------------------------------------------------------------------------
const FONT = 'DejaVu Sans';
const TEXT = '#222222';
const NAME_TD = 'TDCOSMO: 7 lenses';
const NAME_SQ = 'SLACS quality: 14 lenses';
const NAME_SQI = 'SLACS quality + IFU: 5 lenses';
const NAME_SA = 'SLACS all: 33 lenses';
const NAME_SAI = 'SLACS all + IFU: 9 lenses';
const NAME_MS = 'Mock SLACS';
const NAME_MQ = 'Mock Quad';
const COL_TD = '#663399', COL_SQ = '#4169e1', COL_SQI = '#ff7f50';
const FILL_TD = 'rgba(102,51,153,0.5)', FILL_SQ = 'rgba(65,105,225,0.5)', FILL_SQI = 'rgba(255,127,80,0.5)';
const EDGE_SA = '#a3b6f1', EDGE_SAI = '#ffbea6';
const OPEN_SA = 'rgba(65,105,225,0.6)', OPEN_SAI = 'rgba(255,127,80,0.6)';
const COL_MS = '#0000ff', COL_MQ = '#008000';

const titleRich = {
  i: { fontFamily: FONT, fontStyle: 'italic', fontSize: 20, lineHeight: 28, color: TEXT },
  n: { fontFamily: FONT, fontSize: 20, lineHeight: 28, color: TEXT },
  s: { fontFamily: FONT, fontSize: 14, lineHeight: 14, verticalAlign: 'bottom', color: TEXT },
  p: { fontFamily: FONT, fontSize: 14, lineHeight: 14, verticalAlign: 'top', padding: [3, 0, 0, 0], color: TEXT }
};

// Panel layout
const PANEL_W = 118.5;
const colLeft = c => 62 + c * 123.18;
const rowTop = r => (r === 0 ? 3 : 118.2 + (r - 1) * 123.35);
const rowHeight = r => (r === 0 ? 110 : 117.5);

// ---------------------------------------------------------------------------
// Helpers
// ---------------------------------------------------------------------------
function pairsOf(flat) {
  const pts = [];
  for (let k = 0; k + 1 < flat.length; k += 2) pts.push([flat[k], flat[k + 1]]);
  if (pts.length && (pts[0][0] !== pts[pts.length - 1][0] || pts[0][1] !== pts[pts.length - 1][1])) {
    pts.push(pts[0].slice());
  }
  return pts;
}
function triplesOf(flat) {
  const out = [];
  for (let k = 0; k + 2 < flat.length; k += 3) out.push([flat[k], flat[k + 1], flat[k + 2]]);
  return out;
}
function stepPoints(bins, heights) {
  const start = bins[0], w = bins[1];
  const pts = [[start, 0]];
  heights.forEach((h, k) => {
    pts.push([start + k * w, h]);
    pts.push([start + (k + 1) * w, h]);
  });
  pts.push([start + heights.length * w, 0]);
  return pts;
}
function lensPoints(src, kx, ky, filter) {
  const out = [];
  src[kx].forEach((x, k) => {
    const y = src[ky][k];
    if (x == null || y == null) return;
    if (filter && !filter(k)) return;
    out.push([x, y]);
  });
  return out;
}
function valueAxis(p, g, kind, showLabels) {
  return {
    type: 'value', gridIndex: g, min: axisMin[p], max: axisMax[p],
    position: kind === 'x' ? 'bottom' : 'left',
    axisLine: { show: false }, splitLine: { show: false },
    axisTick: { show: true, length: 4, customValues: tickValues[p], lineStyle: { color: '#444', width: 1 } },
    axisLabel: {
      show: showLabels, customValues: tickValues[p], rotate: 45, margin: 5,
      fontFamily: FONT, fontSize: 13, color: TEXT,
      formatter: v => Number(v).toFixed(tickDecimals[p])
    },
    name: showLabels ? axisTitles[p] : '',
    nameLocation: 'middle',
    nameGap: kind === 'x' ? 26 : 24,
    nameRotate: kind === 'x' ? 0 : 90,
    nameTextStyle: { rich: titleRich, fontFamily: FONT, fontSize: 20, color: TEXT }
  };
}
function histRectSeries(g, name, data, fill, stroke, z) {
  return {
    type: 'custom', name, xAxisIndex: g, yAxisIndex: g, z, silent: true,
    data: triplesOf(data),
    encode: { x: [0, 1], y: 2 },
    renderItem(params, api) {
      const a = api.coord([api.value(0), api.value(2)]);
      const b = api.coord([api.value(1), 0]);
      const cs = params.coordSys;
      const shape = echarts.graphic.clipRectByRect(
        { x: a[0], y: a[1], width: b[0] - a[0], height: b[1] - a[1] },
        { x: cs.x, y: cs.y, width: cs.width, height: cs.height }
      );
      if (!shape) return null;
      return {
        type: 'rect', shape,
        style: stroke ? { fill: 'none', stroke, lineWidth: 2 } : { fill }
      };
    }
  };
}

// ---------------------------------------------------------------------------
// Build all panels
// ---------------------------------------------------------------------------
const grids = [], xAxes = [], yAxes = [], series = [];
let g = 0;
for (let r = 0; r < 8; r++) {
  for (let c = 0; c <= r; c++) {
    grids.push({
      left: colLeft(c), top: rowTop(r), width: PANEL_W, height: rowHeight(r),
      show: true, borderColor: '#1e1e1e', borderWidth: 2.5, backgroundColor: '#ffffff'
    });
    xAxes.push(valueAxis(c, g, 'x', r === 7));
    const kx = paramKeys[c], ky = paramKeys[r];

    if (r === c) {
      // 1-D histogram panel
      yAxes.push({
        type: 'value', gridIndex: g, min: 0, max: 1,
        axisLine: { show: false }, splitLine: { show: false },
        axisTick: { show: true, length: 4, customValues: diagTicks[r], lineStyle: { color: '#444', width: 1 } },
        axisLabel: { show: false }
      });
      series.push(histRectSeries(g, NAME_TD, histTD[kx], FILL_TD, null, 2));
      series.push(histRectSeries(g, NAME_SQ, histSQ[kx], FILL_SQ, null, 2));
      series.push(histRectSeries(g, NAME_SQI, histSQI[kx], FILL_SQI, null, 2));
      series.push(histRectSeries(g, NAME_SA, histSA[kx], null, EDGE_SA, 3));
      series.push(histRectSeries(g, NAME_SAI, histSAI[kx], null, EDGE_SAI, 3));
      series.push({
        type: 'line', name: NAME_MQ, xAxisIndex: g, yAxisIndex: g, z: 4, silent: true,
        data: stepPoints(mockQuadBins[kx], mockQ[kx]), showSymbol: false, symbol: 'none',
        lineStyle: { color: COL_MQ, width: 2 }
      });
      series.push({
        type: 'line', name: NAME_MS, xAxisIndex: g, yAxisIndex: g, z: 4, silent: true,
        data: stepPoints(mockBins[kx], mockS[kx]), showSymbol: false, symbol: 'none',
        lineStyle: { color: COL_MS, width: 2 }
      });
    } else {
      yAxes.push(valueAxis(r, g, 'y', c === 0));
      const sets = contourSets[kx + '_' + ky];
      sets.forEach((flat, k) => {
        series.push({
          type: 'line', name: k < 2 ? NAME_MS : NAME_MQ,
          xAxisIndex: g, yAxisIndex: g, z: 3, silent: true,
          data: pairsOf(flat), showSymbol: false, symbol: 'none', smooth: 0.3,
          lineStyle: { color: k < 2 ? COL_MS : COL_MQ, width: 2 }
        });
      });
      const base = { type: 'scatter', xAxisIndex: g, yAxisIndex: g, silent: true };
      series.push(Object.assign({}, base, {
        name: NAME_SA, z: 4, symbolSize: 7,
        data: lensPoints(lensSQ, kx, ky).concat(lensPoints(lensSO, kx, ky)),
        itemStyle: { color: 'rgba(0,0,0,0)', borderColor: OPEN_SA, borderWidth: 1.2 }
      }));
      series.push(Object.assign({}, base, {
        name: NAME_SAI, z: 4, symbolSize: 7,
        data: lensPoints(lensSQ, kx, ky, k => sq_ifu[k] === 1).concat(lensPoints(lensSO, kx, ky, k => so_ifu[k] === 1)),
        itemStyle: { color: 'rgba(0,0,0,0)', borderColor: OPEN_SAI, borderWidth: 1.2 }
      }));
      series.push(Object.assign({}, base, {
        name: NAME_SQ, z: 5, symbolSize: 6,
        data: lensPoints(lensSQ, kx, ky, k => sq_ifu[k] === 0),
        itemStyle: { color: COL_SQ }
      }));
      series.push(Object.assign({}, base, {
        name: NAME_SQI, z: 5, symbolSize: 6,
        data: lensPoints(lensSQ, kx, ky, k => sq_ifu[k] === 1),
        itemStyle: { color: COL_SQI }
      }));
      series.push(Object.assign({}, base, {
        name: NAME_TD, z: 6, symbolSize: 6,
        data: lensPoints(lensTD, kx, ky),
        itemStyle: { color: COL_TD }
      }));
    }
    g++;
  }
}

const legendText = { fontFamily: FONT, fontSize: 16, lineHeight: 16, color: TEXT };
const option = {
  animation: false,
  backgroundColor: '#ffffff',
  textStyle: { fontFamily: FONT },
  legend: [
    {
      orient: 'vertical', left: 388, top: 6, itemWidth: 15, itemHeight: 12, itemGap: 8,
      selectedMode: false,
      textStyle: Object.assign({ padding: [0, 0, 0, 4] }, legendText),
      data: [
        { name: NAME_TD, icon: 'rect', itemStyle: { color: COL_TD, borderWidth: 0 } },
        { name: NAME_SQ, icon: 'rect', itemStyle: { color: COL_SQ, borderWidth: 0 } },
        { name: NAME_SQI, icon: 'rect', itemStyle: { color: COL_SQI, borderWidth: 0 } },
        { name: NAME_SA, icon: 'rect', itemStyle: { color: '#ffffff', borderColor: EDGE_SA, borderWidth: 1.5 } },
        { name: NAME_SAI, icon: 'rect', itemStyle: { color: '#ffffff', borderColor: EDGE_SAI, borderWidth: 1.5 } }
      ]
    },
    {
      orient: 'vertical', left: 374, top: 126, itemWidth: 30, itemHeight: 2, itemGap: 6,
      selectedMode: false,
      textStyle: Object.assign({ padding: [0, 0, 0, 3] }, legendText),
      data: [
        { name: NAME_MS, icon: 'rect', itemStyle: { color: COL_MS, borderWidth: 0 } },
        { name: NAME_MQ, icon: 'rect', itemStyle: { color: COL_MQ, borderWidth: 0 } }
      ]
    }
  ],
  grid: grids,
  xAxis: xAxes,
  yAxis: yAxes,
  series
};

const chart = echarts.init(document.getElementById('chart'), null, { renderer: 'canvas' });
chart.setOption(option);
</script>
</body>
</html>
